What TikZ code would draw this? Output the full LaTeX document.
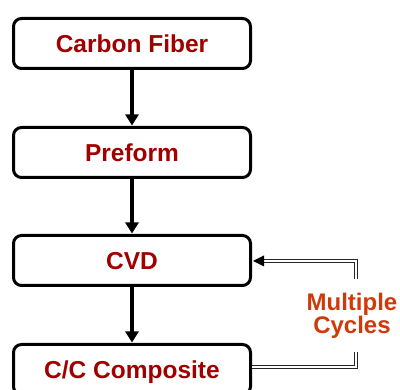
\documentclass[tikz,border=0pt]{standalone}
\usepackage{fontspec}
\setmainfont{Liberation Sans}
\usetikzlibrary{arrows.meta}
\definecolor{boxtext}{HTML}{A00000}
\definecolor{cyctext}{HTML}{D03A0A}
\begin{document}
\begin{tikzpicture}[x=1pt,y=1pt,
  stepbox/.style={draw=black, line width=3pt, rounded corners=8pt, fill=white,
    minimum width=237pt, minimum height=50pt, inner sep=0pt, text depth=0pt,
    font=\fontsize{24.5}{27}\selectfont\bfseries, text=boxtext},
  flow/.style={line width=3.2pt, -{Triangle[length=11pt,width=13pt]}, shorten >=0.5pt},
  cycle/.style={draw=black!85, line width=0.9pt, double=white, double distance=2pt},
  lbl/.style={font=\fontsize{24}{26}\selectfont\bfseries, text=cyctext, align=center}]
\useasboundingbox (0,0) rectangle (400,390);
\node[stepbox] (cf) at (132,346.5) {Carbon Fiber};
\node[stepbox] (pf) at (132,237.5) {Preform};
\node[stepbox] (cvd) at (132,129.5) {CVD};
\node[stepbox] (cc) at (132,20.5) {C/C Composite};
\draw[flow] (cf) -- (pf);
\draw[flow] (pf) -- (cvd);
\draw[flow] (cvd) -- (cc);
\node[lbl] (mc) at (352,74.5) {Multiple\\[-3pt]Cycles};
\coordinate (c1) at (356,38);
\coordinate (c2) at (356,111);
\coordinate (tipbase) at (264,129);
\draw[cycle] ([yshift=2.5pt]cc.east) -| (c1);
\draw[cycle] (c2) |- (tipbase);
\fill[black] (253,129) -- (264,134.5) -- (264,123.5) -- cycle;
\end{tikzpicture}
\end{document}
